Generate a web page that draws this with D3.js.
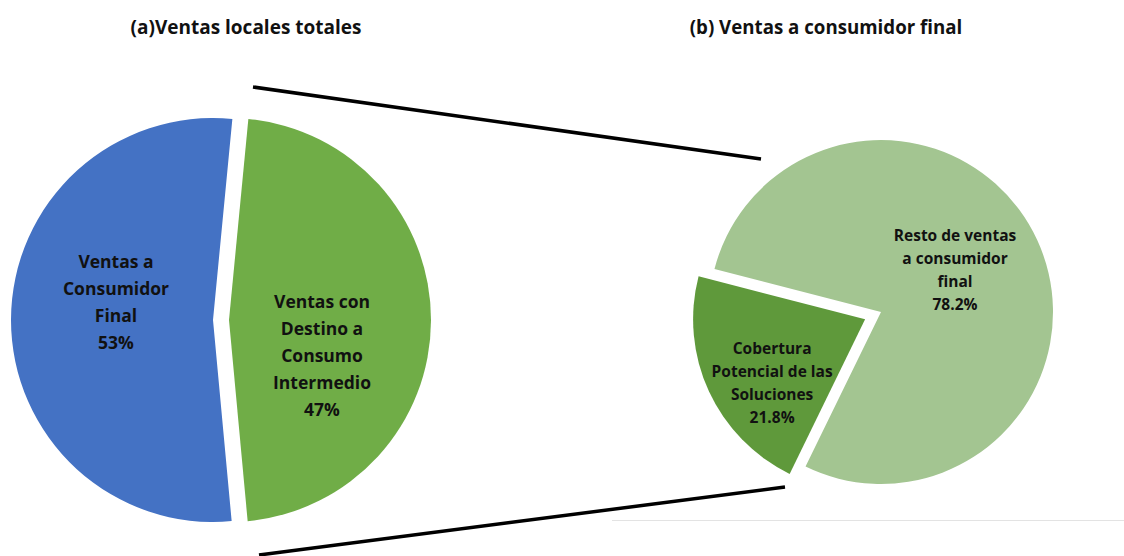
<!DOCTYPE html>
<html>
<head>
<meta charset="utf-8">
<script src="https://cdn.jsdelivr.net/npm/d3@7"></script>
<style>
  body { margin: 0; background: #fff; }
  svg text { font-family: "Open Sans", sans-serif; font-weight: bold; fill: #111; }
</style>
</head>
<body>
<svg id="chart" width="1124" height="556"></svg>
<script>
// data
var totalLabels = [["Ventas a", "Consumidor", "Final"], ["Ventas con", "Destino a", "Consumo", "Intermedio"]];
var totalValues = [53, 47];
var totalColors = ["#4472C4", "#70AD47"];

var finalLabels = [["Resto de ventas", "a consumidor", "final"], ["Cobertura", "Potencial de las", "Soluciones"]];
var finalValues = [78.2, 21.8];
var finalColors = ["#A3C591", "#5F993B"];

var titles = ["(a)Ventas locales totales", "(b) Ventas a consumidor final"];

var svg = d3.select("#chart");
var deg = Math.PI / 180;

/*** Pie drawing ***/
function drawPie(opts) {
  var pie = d3.pie()
    .sort(null)
    .value(d => d)
    .startAngle(opts.start * deg)
    .endAngle(opts.start * deg + 2 * Math.PI);

  var arc = d3.arc().innerRadius(0).outerRadius(opts.r);
  var arcs = pie(opts.values);

  var g = svg.append("g")
    .attr("transform", "translate(" + opts.cx + "," + opts.cy + ")");

  // exploded slices move out along their mid angle
  var slices = g.selectAll("g.slice")
    .data(arcs)
    .join("g")
    .attr("class", "slice")
    .attr("transform", (d, i) => {
      var mid = (d.startAngle + d.endAngle) / 2;
      var off = opts.explode[i];
      return "translate(" + (Math.sin(mid) * off) + "," + (-Math.cos(mid) * off) + ")";
    });

  slices.append("path")
    .attr("d", arc)
    .attr("fill", (d, i) => opts.colors[i]);

  // labels
  slices.each(function (d, i) {
    var lines = opts.labels[i].concat([opts.fmt(d.value)]);
    var pos = opts.labelPos[i];
    var t = d3.select(this).append("text")
      .attr("text-anchor", "middle")
      .style("font-size", opts.fontSize + "px");
    lines.forEach((ln, k) => {
      t.append("tspan")
        .attr("x", pos[0])
        .attr("y", pos[1] + (k - (lines.length - 1) / 2) * opts.lineH)
        .attr("dy", "0.35em")
        .text(ln);
    });
  });
}

drawPie({
  values: totalValues, colors: totalColors, labels: totalLabels,
  cx: 221, cy: 320, r: 202, start: 174.7, explode: [8, 8],
  labelPos: [[-97, -18], [93, 36]], fontSize: 17.5, lineH: 27,
  fmt: v => d3.format(".0f")(v) + "%"
});

drawPie({
  values: finalValues, colors: finalColors, labels: finalLabels,
  cx: 881, cy: 312, r: 172, start: 284.5, explode: [0, 17.5],
  labelPos: [[74, -42], [-93, 64]], fontSize: 15.5, lineH: 23,
  fmt: v => d3.format(".1f")(v) + "%"
});

/*** Titles ***/
svg.selectAll("text.title")
  .data(titles)
  .join("text")
  .attr("class", "title")
  .attr("x", (d, i) => [246, 826][i])
  .attr("y", 27)
  .attr("dy", "0.35em")
  .attr("text-anchor", "middle")
  .style("font-size", (d, i) => [19, 18.7][i] + "px")
  .text(d => d);

/*** Connector lines ***/
var connectors = [[[253, 87], [761, 159]], [[259, 555], [785, 487]]];
svg.selectAll("line.conn")
  .data(connectors)
  .join("line")
  .attr("class", "conn")
  .attr("x1", d => d[0][0]).attr("y1", d => d[0][1])
  .attr("x2", d => d[1][0]).attr("y2", d => d[1][1])
  .attr("stroke", "#000")
  .attr("stroke-width", 3.5);

// faint border at the bottom right
svg.append("line")
  .attr("x1", 612).attr("x2", 1124)
  .attr("y1", 520.5).attr("y2", 520.5)
  .attr("stroke", "#e3e3e3")
  .attr("stroke-width", 1);
</script>
</body>
</html>
